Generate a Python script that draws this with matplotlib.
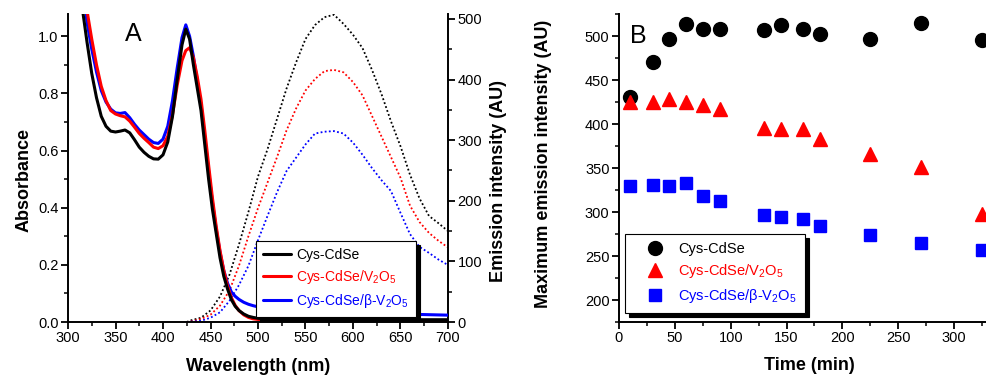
import numpy as np
import matplotlib
matplotlib.use("Agg")
import matplotlib.pyplot as plt
from matplotlib.ticker import MultipleLocator

plt.rcParams['font.family'] = ['Liberation Sans', 'DejaVu Sans']
plt.rcParams['mathtext.fontset'] = 'custom'
plt.rcParams['mathtext.rm'] = 'Liberation Sans'
plt.rcParams['mathtext.it'] = 'Liberation Sans:italic'
plt.rcParams['mathtext.bf'] = 'Liberation Sans:bold'

# ---- panel A : absorbance ----
wl_abs = [310, 315, 320, 325, 330, 335, 340, 345, 350, 355, 360, 365, 370, 375, 380,
          385, 390, 395, 400, 405, 410, 415, 420, 424, 428, 432, 436, 440, 444, 448,
          452, 456, 460, 464, 468, 472, 476, 480, 485, 490, 495, 500, 510, 525, 550,
          600, 650, 700]
abs_cdse = [1.35, 1.10, 0.98, 0.87, 0.785, 0.72, 0.685, 0.668, 0.665, 0.668, 0.672, 0.662,
            0.638, 0.612, 0.594, 0.58, 0.571, 0.57, 0.585, 0.63, 0.72, 0.85, 0.97, 1.025,
            0.99, 0.90, 0.82, 0.74, 0.62, 0.50, 0.395, 0.31, 0.225, 0.16, 0.115, 0.078,
            0.055, 0.04, 0.028, 0.02, 0.016, 0.013, 0.011, 0.01, 0.009, 0.008, 0.008, 0.008]
abs_v2o5 = [1.5, 1.25, 1.09, 0.99, 0.90, 0.825, 0.775, 0.74, 0.728, 0.722, 0.718, 0.703,
            0.682, 0.66, 0.643, 0.628, 0.612, 0.607, 0.617, 0.65, 0.725, 0.83, 0.915, 0.95,
            0.96, 0.925, 0.86, 0.78, 0.67, 0.55, 0.435, 0.335, 0.25, 0.18, 0.125, 0.085,
            0.058, 0.04, 0.025, 0.016, 0.011, 0.009, 0.007, 0.006, 0.005, 0.005, 0.005, 0.005]
abs_beta = [1.45, 1.2, 1.05, 0.955, 0.875, 0.81, 0.77, 0.745, 0.732, 0.73, 0.733, 0.715,
            0.692, 0.672, 0.656, 0.64, 0.628, 0.625, 0.64, 0.685, 0.775, 0.89, 0.995, 1.04,
            1.0, 0.93, 0.845, 0.76, 0.645, 0.53, 0.42, 0.325, 0.245, 0.18, 0.135, 0.105,
            0.09, 0.079, 0.069, 0.062, 0.057, 0.053, 0.049, 0.045, 0.04, 0.033, 0.028, 0.024]

# ---- panel A : emission ----
wl_em = [425, 430, 440, 450, 460, 470, 480, 490, 500, 510, 520, 530, 540, 550, 560, 570,
         580, 590, 600, 610, 620, 630, 640, 650, 660, 670, 680, 690, 700]
em_cdse = [0, 3, 7, 19, 42, 78, 128, 182, 240, 285, 335, 385, 428, 467, 490, 503,
           507, 492, 474, 452, 416, 376, 331, 290, 243, 204, 175, 163, 150]
em_v2o5 = [0, 1, 5, 12, 27, 52, 93, 142, 188, 230, 272, 316, 352, 382, 401, 414,
           416, 412, 396, 374, 340, 306, 272, 238, 192, 165, 147, 134, 123]
em_beta = [0, 0.5, 2, 7, 16, 35, 61, 93, 135, 175, 214, 249, 271, 293, 311, 314,
           315, 311, 296, 276, 254, 234, 216, 180, 145, 124, 114, 103, 94]

# ---- panel B : max emission vs time ----
time_min = [10, 30, 45, 60, 75, 90, 130, 145, 165, 180, 225, 270, 325]
max_cdse = [431, 470, 497, 514, 508, 508, 507, 512, 508, 502, 497, 515, 496]
max_v2o5 = [425, 425, 428, 425, 422, 417, 395, 394, 394, 383, 366, 351, 298]
max_beta = [330, 331, 330, 333, 318, 313, 297, 294, 292, 284, 274, 265, 257]

labels = ['Cys-CdSe', 'Cys-CdSe/V$_2$O$_5$', 'Cys-CdSe/β-V$_2$O$_5$']
colors = ['black', 'red', 'blue']

fig = plt.figure(figsize=(9.87, 3.77), dpi=100)
W, H = 987.0, 377.0

def style_ticks(a, which_sides):
    a.tick_params(which='major', direction='out', length=4.8, width=1.3, labelsize=10.5, pad=2)
    a.tick_params(which='minor', direction='out', length=2.6, width=1.1)
    for s in ['top', 'right', 'left', 'bottom']:
        a.spines[s].set_visible(s in which_sides)
        a.spines[s].set_linewidth(1.4)

# panel A
ax = fig.add_axes([68 / W, 1 - 322 / H, 380 / W, 308 / H])
ax2 = ax.twinx()
for y, c in zip([em_cdse, em_v2o5, em_beta], colors):
    ax2.plot(wl_em, y, color=c, lw=1.3, ls=(0, (1, 1.3)))
hs = []
for y, c, lab in zip([abs_cdse, abs_v2o5, abs_beta][::-1], colors[::-1], labels[::-1]):
    h, = ax.plot(wl_abs, y, color=c, lw=2.2, label=lab, solid_capstyle='round')
    hs.append(h)
hs = hs[::-1]
ax.set_zorder(ax2.get_zorder() + 1)
ax.patch.set_visible(False)

ax.set_xlim(300, 700)
ax.set_ylim(0, 1.078)
ax2.set_ylim(0, 1.078 * 500 / 1.0 * (285.7 / 303.0))
ax.xaxis.set_major_locator(MultipleLocator(50))
ax.xaxis.set_minor_locator(MultipleLocator(25))
ax.yaxis.set_major_locator(MultipleLocator(0.2))
ax.yaxis.set_minor_locator(MultipleLocator(0.1))
ax.yaxis.set_major_formatter(matplotlib.ticker.FormatStrFormatter('%.1f'))
ax2.yaxis.set_major_locator(MultipleLocator(100))
ax2.yaxis.set_minor_locator(MultipleLocator(50))
style_ticks(ax, ['left', 'bottom'])
style_ticks(ax2, ['right'])
ax.set_xlabel('Wavelength (nm)', fontsize=13, fontweight='bold')
ax.set_ylabel('Absorbance', fontsize=13, fontweight='bold')
ax2.set_ylabel('Emission intensity (AU)', fontsize=13, fontweight='bold')
ax.xaxis.set_label_coords(0.5, -0.118)
ax.yaxis.set_label_coords(-0.092, 0.461)
ax2.yaxis.set_label_coords(1.111, 0.458)
ax.text(0.171, 0.935, 'A', transform=ax.transAxes, fontsize=18, ha='center', va='center')

leg = ax.legend(handles=hs, loc='lower left', bbox_to_anchor=(0.495, 0.016), borderaxespad=0,
                fontsize=10, handlelength=2.0, handletextpad=0.4, borderpad=0.5,
                labelspacing=0.45, fancybox=False, framealpha=1, edgecolor='black',
                shadow={'ox': 3, 'oy': -3, 'color': 'black', 'alpha': 1})
leg.get_frame().set_linewidth(0.8)
for t, c in zip(leg.get_texts(), colors):
    t.set_color(c)

# panel B
bx = fig.add_axes([619 / W, 1 - 322 / H, 379.8 / W, 308 / H])
markers = ['o', '^', 's']
sizes = [10, 10, 8]
for y, c, m, s, lab in zip([max_cdse, max_v2o5, max_beta], colors, markers, sizes, labels):
    bx.plot(time_min, y, ls='none', marker=m, ms=s, color=c, mec=c, label=lab)
bx.set_xlim(0, 340)
bx.set_ylim(175, 525)
bx.xaxis.set_major_locator(MultipleLocator(50))
bx.xaxis.set_minor_locator(MultipleLocator(25))
bx.yaxis.set_major_locator(MultipleLocator(50))
bx.yaxis.set_minor_locator(MultipleLocator(25))
style_ticks(bx, ['left', 'bottom'])
bx.set_xlabel('Time (min)', fontsize=13, fontweight='bold')
bx.set_ylabel('Maximum emission intensity (AU)', fontsize=13, fontweight='bold')
bx.xaxis.set_label_coords(0.5, -0.115)
bx.yaxis.set_label_coords(-0.176, 0.513)
bx.text(0.051, 0.929, 'B', transform=bx.transAxes, fontsize=18, ha='center', va='center')

legb = bx.legend(loc='lower left', bbox_to_anchor=(0.016, 0.03), borderaxespad=0,
                 fontsize=10.5, handlelength=3.0, handletextpad=0.1, borderpad=0.55,
                 labelspacing=0.45, numpoints=1, fancybox=False, framealpha=1,
                 edgecolor='black', shadow={'ox': 3, 'oy': -3, 'color': 'black', 'alpha': 1})
legb.get_frame().set_linewidth(0.8)
for t, c in zip(legb.get_texts(), colors):
    t.set_color(c)

fig.savefig('out.png', dpi=100)
